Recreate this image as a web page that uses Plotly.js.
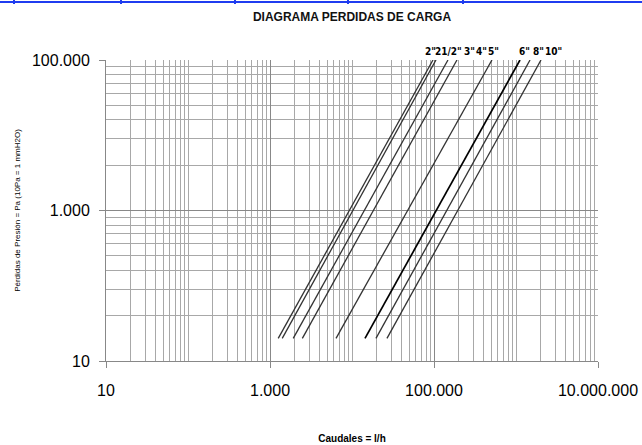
<!DOCTYPE html>
<html><head><meta charset="utf-8">
<script src="https://cdn.plot.ly/plotly-3.0.1.min.js"></script>
<style>html,body{margin:0;padding:0;background:#fff;overflow:hidden}#chart{width:642px;height:445px}</style>
</head><body>
<div id="chart"></div>
<script>
// Pipe sizes and the flow (l/h) at which each line reaches 20 Pa and 100.000 Pa
const sizes = ['2"', '21/2"', '3"', '4"', '5"', '6"', '8"', '10"'];
const pressures = [20, 100000];
const flowLow  = [1260, 1410, 1920, 2480, 6380, 14400, 19600, 26700];
const flowHigh = [97200, 105700, 148000, 190600, 509000, 1119000, 1483000, 2018000];

const xTickVals = [10, 1000, 100000, 10000000];
const xTickText = ['10', '1.000', '100.000', '10.000.000'];
const yTickVals = [10, 1000, 100000];
const yTickText = ['10', '1.000', '100.000'];

// gridlines: x standard log minors, y Excel base-100 minors (k^2)
const xMinor = [];
for (let n = 1; n < 7; n++) for (let k = 1; k < 10; k++) { const v = k * Math.pow(10, n); if (xTickVals.indexOf(v) < 0) xMinor.push(v); }
const yMinor = [];
[10, 1000].forEach(b => { for (let k = 2; k < 10; k++) yMinor.push(b * k * k); });

const W = 642, H = 445, L = 106, R = 44, T = 60, B = 84;
const pw = W - L - R, ph = H - T - B;
const px2x = p => (p - L) / pw, py2y = p => (H - B - p) / ph;

const traces = sizes.map((s, i) => ({
  type: 'scatter', mode: 'lines', name: s,
  x: [flowLow[i], flowHigh[i]], y: pressures,
  line: {color: i === 5 ? '#000' : '#333', width: i === 5 ? 1.7 : 1.3},
  hoverinfo: 'skip', cliponaxis: false
}));

const labelShift = [-2, 13, 22, 25, 2, 4, 8, 12];
const annotations = sizes.map((s, i) => ({
  xref: 'x', yref: 'paper', x: Math.log10(flowHigh[i]), y: 1, xanchor: 'center', yanchor: 'bottom',
  xshift: labelShift[i], yshift: 1, showarrow: false, text: s,
  font: {family: 'DejaVu Sans Condensed, Liberation Sans Narrow, Arial Narrow, sans-serif', size: 10, color: '#000', weight: 'bold'}
}));

const blue = '#1f3cf0';
const shapes = [{type: 'line', xref: 'paper', yref: 'paper', x0: px2x(0), x1: px2x(W), y0: py2y(2), y1: py2y(2), line: {color: blue, width: 2}}];
[14, 121, 235, 348, 463].forEach(p => shapes.push({type: 'line', xref: 'paper', yref: 'paper', x0: px2x(p), x1: px2x(p), y0: py2y(0), y1: py2y(4), line: {color: blue, width: 2}}));

const gridCol = '#a8a8a8';
const layout = {
  width: W, height: H, margin: {l: L, r: R, t: T, b: B},
  paper_bgcolor: '#fff', plot_bgcolor: '#fff', showlegend: false,
  font: {family: 'Liberation Sans, Arial, sans-serif', color: '#000'},
  title: {text: 'DIAGRAMA PERDIDAS DE CARGA', x: 0.5, xref: 'paper', y: 1 - 17 / H, yanchor: 'middle',
          font: {size: 12, weight: 'bold', color: '#111'}},
  xaxis: {type: 'log', range: [1, 7], tickmode: 'array', tickvals: xTickVals, ticktext: xTickText,
          ticks: 'outside', ticklen: 6, tickcolor: '#888', tickfont: {size: 16}, ticklabelstandoff: 9,
          showgrid: true, gridcolor: '#888', gridwidth: 1, zeroline: false,
          showline: true, linecolor: '#888', linewidth: 1, mirror: false,
          minor: {tickmode: 'array', tickvals: xMinor, showgrid: true, gridcolor: gridCol, gridwidth: 1, ticks: ''},
          title: {text: 'Caudales = l/h', font: {size: 10, weight: 'bold'}, standoff: 36}, automargin: false},
  yaxis: {type: 'log', range: [1, 5], tickmode: 'array', tickvals: yTickVals, ticktext: yTickText,
          ticks: 'outside', ticklen: 6, tickcolor: '#888', tickfont: {size: 16}, ticklabelstandoff: 6,
          showgrid: true, gridcolor: '#888', gridwidth: 1, zeroline: false,
          showline: true, linecolor: '#888', linewidth: 1,
          minor: {tickmode: 'array', tickvals: yMinor, showgrid: true, gridcolor: gridCol, gridwidth: 1, ticks: ''},
          title: {text: 'Pérdidas de Presión = Pa (10Pa = 1 mmH2O)', font: {size: 8}, standoff: 10}, automargin: false},
  annotations: annotations, shapes: shapes
};
Plotly.newPlot('chart', traces, layout, {displayModeBar: false, staticPlot: true});
</script>
</body></html>
